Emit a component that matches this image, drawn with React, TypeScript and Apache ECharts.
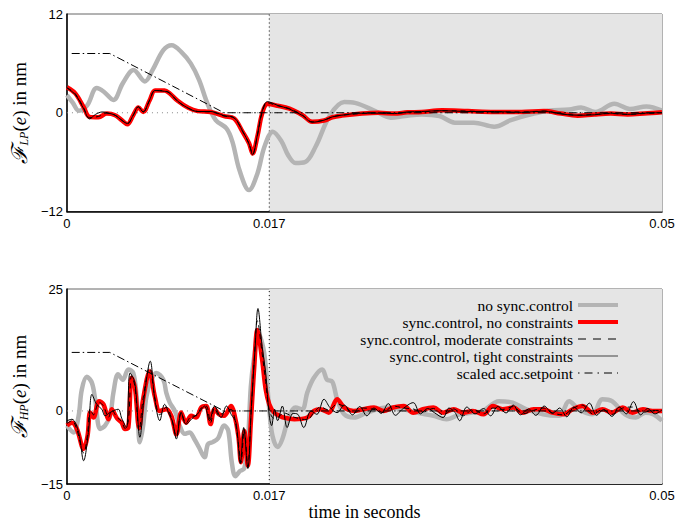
import React, { useEffect, useRef } from "react";
import * as echarts from "echarts";

// time in ms, value in nm
const grayLP: [number, number][] = [
  [0, 2.15], [0.5, 1.2], [1.0, 0.25], [1.7, 0.9], [2.5, 3.0], [3.1, 2.55], [3.9, 1.55], [4.7, 3.6], [5.6, 5.2], [6.55, 3.8],
  [7.2, 5.2], [8.1, 7.6], [8.8, 8.2], [9.6, 7.4], [10.4, 6.0], [11.1, 4.0], [11.8, 1.15], [12.5, -0.9], [13.4, -1.9], [13.9, -3.5],
  [14.5, -7.0], [15.3, -9.4], [16.0, -7.4], [16.6, -4.1], [17.3, -2.3], [18.0, -3.4], [18.6, -5.2], [19.2, -6.1], [20.0, -6.0], [20.9, -4.1],
  [22.1, -0.3], [23.3, 1.3], [24.2, 1.2], [25.9, 0.2], [27.2, -0.6], [28.4, -0.4], [29.8, -0.2], [31.3, -0.4], [32.6, -1.2], [34.2, -1.2],
  [35.9, -1.7], [37.3, -0.9], [39.0, -0.2], [40.4, 0.25], [42.2, 0.4], [43.2, 0.65], [44.4, 0.1], [46.0, 1.1], [47.3, 0.45], [48.7, 0.75], [50.0, 0.25],
];
const redLP: [number, number][] = [
  [0, 3.1], [0.7, 2.35], [1.4, 0.7], [1.9, -0.5], [2.65, -0.55], [3.35, -0.1], [4.05, -0.3], [4.6, -0.9], [5.07, -1.4], [5.57, -0.3],
  [6.0, 0.65], [6.4, 0.1], [6.96, 1.55], [7.4, 2.7], [8.2, 2.7], [8.6, 2.4], [9.3, 1.45], [10.2, 0.6], [11.0, 0.2], [12.1, 0.1],
  [13.2, -0.4], [14.05, -0.7], [14.75, -2.3], [15.3, -3.7], [15.6, -4.95], [16.0, -2.9], [16.4, -0.1], [16.85, 1.05], [17.7, 0.85], [18.7, 0.5],
  [19.8, -0.3], [20.6, -1.1], [21.6, -0.95], [22.3, -0.55], [23.1, -0.35], [24.8, -0.1], [26.2, 0.0], [27.5, -0.1], [28.6, 0.05], [29.8, 0.1],
  [31.5, 0.3], [33.7, 0.2], [35.9, 0.1], [38.2, 0.1], [40.1, 0.2], [41.5, -0.1], [42.9, -0.35], [44.3, -0.2], [45.7, -0.1], [47.1, -0.2], [48.5, -0.1], [50, 0.05],
];
const moderateLP: [number, number][] = [
  [0, 3.05], [0.7, 2.3], [1.4, 0.6], [1.9, -0.6], [2.65, -0.45], [3.35, -0.05], [4.05, -0.3], [4.6, -0.9], [5.07, -1.35], [5.57, -0.3],
  [6.0, 0.7], [6.4, 0.1], [6.96, 1.55], [7.4, 2.7], [8.2, 2.65], [8.6, 2.4], [9.3, 1.4], [10.2, 0.55], [11.0, 0.15], [12.1, 0.1],
  [13.2, -0.4], [14.05, -0.65], [14.75, -2.25], [15.3, -3.75], [15.6, -5.0], [16.0, -2.8], [16.4, 0.0], [16.85, 1.2], [17.7, 0.85], [18.7, 0.5],
  [19.8, -0.3], [20.6, -1.1], [21.6, -0.9], [22.3, -0.5], [23.1, -0.3], [24.8, -0.1], [26.2, 0.0], [27.5, -0.1], [28.6, 0.05], [29.8, 0.1],
  [31.5, 0.25], [33.7, 0.2], [35.9, 0.1], [38.2, 0.1], [40.1, 0.2], [41.5, -0.1], [42.9, -0.3], [44.3, -0.2], [45.7, -0.1], [47.1, -0.2], [48.5, -0.1], [50, 0.0],
];
const tightLP: [number, number][] = [
  [0, 3.0], [0.7, 2.2], [1.4, 0.5], [1.9, -0.75], [2.4, -0.2], [3.0, 0.1], [3.5, -0.05], [4.05, -0.3], [4.6, -0.9], [5.07, -1.3],
  [5.57, -0.3], [6.0, 0.75], [6.4, 0.1], [6.96, 1.6], [7.4, 2.7], [8.2, 2.6], [8.6, 2.45], [9.3, 1.4], [10.2, 0.55], [11.0, 0.15],
  [12.1, 0.15], [13.2, -0.35], [14.05, -0.6], [14.75, -2.2], [15.3, -3.8], [15.6, -5.1], [16.0, -2.7], [16.4, 0.2], [16.85, 1.35], [17.7, 0.9],
  [18.7, 0.45], [19.8, -0.35], [20.6, -1.15], [21.6, -0.9], [22.3, -0.5], [23.1, -0.3], [24.8, -0.05], [26.2, -0.05], [27.5, -0.1], [28.6, 0.1],
  [29.8, 0.15], [31.5, 0.25], [33.7, 0.15], [35.9, 0.15], [38.2, 0.05], [40.1, 0.2], [41.5, -0.15], [42.9, -0.3], [44.3, -0.25], [45.7, -0.05],
  [47.1, -0.2], [48.5, -0.05], [50, 0.0],
];
const setpointLP: [number, number][] = [[0.4, 7.2], [3.6, 7.2], [13.2, 0], [50, 0]];

const grayHP: [number, number][] = [
  [0, -3.0], [0.56, -4.4], [0.98, -1.0], [1.25, 4.4], [1.67, 7.0], [2.09, 5.8], [2.37, 2.4], [2.79, -3.7], [3.2, -3.0], [3.63, -1.0],
  [3.9, 3.7], [4.3, 7.5], [4.7, 6.4], [5.16, 8.5], [5.57, 7.8], [5.85, 3.0], [6.13, -6.4], [6.4, -3.0], [6.68, 3.0], [7.1, 6.4],
  [7.5, 7.8], [8.1, 6.4], [8.35, 3.7], [8.64, 1.7], [9.06, 0.0], [9.47, -3.0], [9.9, -4.7], [10.3, -4.4], [10.7, -5.75], [11.1, -7.5],
  [11.56, -9.5], [11.85, -6.8], [12.25, -6.4], [12.7, -5.6], [13.2, -3.0], [13.55, -4.0], [13.85, -10.5], [14.15, -13.4], [14.55, -12.3], [14.9, -11.8],
  [15.2, -6.4], [15.45, 5.0], [15.7, 10.5], [16.1, 15.8], [16.57, 11.9], [17.0, 0.35], [17.27, -5.1], [17.7, -7.4], [18.1, -5.75], [18.67, -1.0],
  [19.2, 0.7], [19.77, 0.35], [20.2, 3.8], [20.75, 6.8], [21.45, 8.5], [21.85, 6.4], [22.3, 6.0], [22.7, 2.4], [23.3, -0.7], [24.1, -1.35],
  [25.2, -0.35], [26.9, 0.7], [28.0, 0.5], [29.4, -0.35], [30.8, -1.0], [31.9, -1.7], [33.0, -0.7], [34.1, -0.35], [34.95, 0], [36.3, 2.0],
  [37.45, 1.7], [38.6, 0.35], [40.0, -0.7], [41.35, -1.0], [42.2, 2.0], [43.0, 0.35], [44.15, -0.7], [45.0, 2.4], [45.8, 2.0], [46.9, -0.7],
  [47.8, -1.35], [48.6, -0.35], [49.3, -0.7], [50, -2.0],
];
const redHP: [number, number][] = [
  [0, -3.0], [0.42, -2.4], [0.84, -3.7], [1.4, -7.8], [1.73, -5.1], [1.95, -0.3], [2.23, -1.35], [2.7, 2.0], [3.07, 1.35], [3.5, -1.7],
  [3.76, 0.35], [4.2, -1.5], [4.6, -2.4], [4.88, -3.7], [5.16, -3.4], [5.43, 6.8], [5.71, 4.8], [6.07, -3.5], [6.4, 2.4], [6.95, 8.1],
  [7.38, 3.0], [7.8, 0], [8.35, 0.35], [8.77, -1.0], [9.2, -4.8], [9.6, -0.3], [10.0, -2.4], [10.44, -1.0], [10.86, -1.35], [11.28, 0.7],
  [11.7, 1.0], [12.07, -2.7], [12.4, 0.35], [12.8, -0.7], [13.2, -1.0], [13.8, 1.0], [14.07, -0.7], [14.4, -5.1], [14.62, -10.5], [14.9, -4.1],
  [15.2, -11.2], [15.45, -2.4], [15.74, 9.1], [16.0, 16.6], [16.4, 10.5], [16.7, 4.4], [17.0, 1.35], [17.4, -0.35], [17.8, -0.9], [18.2, -1.35],
  [19.1, -1.7], [20.2, -1.35], [20.75, 0], [21.3, 0.35], [22.0, -0.35], [22.7, 2.4], [23.3, 0.7], [24.1, 0], [24.9, 0.35], [25.8, 0.7],
  [26.6, 0], [27.4, 0.7], [28.3, 1.0], [29.1, -0.35], [29.9, 0.35], [30.8, 0.7], [31.6, -0.35], [32.5, 0.35], [33.3, -0.35], [34.1, 0],
  [35.0, -0.7], [35.8, 1.0], [36.6, 0.35], [37.5, 0.7], [38.3, -0.35], [39.2, 0.35], [40.0, 0.35], [40.8, -0.35], [41.7, -0.7], [42.5, 0.35],
  [43.3, 1.0], [44.2, -0.35], [45.0, 0.35], [45.8, -0.35], [46.7, 0.7], [47.5, -0.35], [48.4, 0.35], [49.2, 0], [50, 0],
];
const moderateHP: [number, number][] = [
  [0, -2.6], [0.42, -2.0], [0.84, -3.9], [1.4, -8.6], [1.73, -4.8], [1.95, 0.5], [2.23, -0.8], [2.7, 1.8], [3.07, 1.0], [3.5, -1.3],
  [3.76, 0.2], [4.2, -1.3], [4.6, -2.2], [4.88, -3.6], [5.16, -2.0], [5.43, 7.2], [5.71, 5.0], [6.07, -4.0], [6.4, 2.6], [6.95, 8.9],
  [7.38, 2.8], [7.8, -0.8], [8.35, 0.8], [8.77, -1.4], [9.2, -5.2], [9.6, -0.3], [10.0, -2.5], [10.44, -1.1], [10.86, -1.0], [11.28, 0.6],
  [11.7, 1.0], [12.07, -2.4], [12.4, 0.6], [12.8, -1.0], [13.2, -0.2], [13.8, 0.3], [14.07, -1.2], [14.4, -6.5], [14.62, -10.6], [14.9, -3.8],
  [15.2, -11.4], [15.45, -1.2], [15.74, 10.5], [16.0, 18.5], [16.4, 11.8], [16.7, 6.0], [17.0, 0.2], [17.4, -1.5], [17.8, -1.2], [18.2, -0.4],
  [19.1, -1.3], [20.2, -1.8], [20.75, -0.3], [21.3, 0.8], [22.0, 0.2], [22.7, 1.4], [23.3, 0.9], [24.1, -0.4], [24.9, 0.6], [25.8, 0.3],
  [26.6, -0.3], [27.4, 1.0], [28.3, 0.6], [29.1, 0.4], [29.9, -0.2], [30.8, 0.5], [31.6, -0.8], [32.5, 0.4], [33.3, -1.0], [34.1, 0.3],
  [35.0, -0.6], [35.8, 0.6], [36.6, 0.3], [37.5, 0.9], [38.3, -0.6], [39.2, 0.1], [40.0, 0.6], [40.8, -0.4], [41.7, -0.8], [42.5, 0.5],
  [43.3, 1.2], [44.2, -0.6], [45.0, 0.3], [45.8, -0.7], [46.7, 0.6], [47.5, 0.8], [48.4, -0.3], [49.2, 0.1], [50, 0.1],
];
const tightHP: [number, number][] = [
  [0, -2.0], [0.42, -1.7], [0.98, -4.4], [1.4, -10.2], [1.8, -4.4], [2.1, 3.4], [2.5, 1.35], [2.93, 0.35], [3.2, -1.0], [3.6, -0.35],
  [4.3, 0.35], [4.6, -1.5], [5.0, -3.4], [5.3, 7.8], [5.7, 5.8], [6.13, -5.4], [6.5, 3.0], [7.0, 10.2], [7.38, 2.4], [7.8, -2.0],
  [8.2, 1.35], [8.64, -1.0], [8.85, -2.0], [9.2, -5.75], [9.6, -0.3], [10.0, -2.7], [10.6, -1.35], [11.1, -0.3], [11.56, 1.0], [11.98, -2.0],
  [12.4, 1.0], [12.95, -1.35], [13.4, 1.0], [13.8, -0.7], [14.2, -2.4], [14.57, -10.8], [14.85, -3.4], [15.2, -11.8], [15.5, 0.9], [15.8, 12.5],
  [16.05, 21.0], [16.4, 13.2], [16.7, 7.8], [17.0, -1.0], [17.2, -3.0], [17.45, 0.35], [17.7, -2.0], [18.1, 1.0], [18.5, -3.4], [19.0, -0.5],
  [19.4, -0.7], [19.9, -3.4], [20.5, 0], [21.0, -0.7], [21.6, 2.4], [22.1, 0.7], [22.7, -0.35], [23.3, 1.2], [24.0, -0.8], [24.6, 0.9],
  [25.2, -1.0], [25.8, 0.6], [26.4, -0.5], [27.0, 1.5], [27.6, -0.9], [28.2, 0.4], [29.1, 1.7], [29.7, -0.6], [30.3, 0.5], [30.9, -0.4],
  [31.6, -1.35], [32.1, 0.6], [32.6, -0.3], [33.0, -2.0], [33.6, 0.8], [34.3, -0.6], [35.0, 0.5], [35.6, -1.0], [36.2, 0.9], [36.9, -0.4],
  [37.5, 1.2], [38.1, -0.8], [38.8, 0.4], [39.4, -0.9], [40.1, 1.0], [40.8, -0.5], [41.4, 0.6], [42.0, -1.2], [42.6, 0.8], [43.2, -0.4],
  [43.9, 1.6], [44.5, -0.9], [45.1, 0.3], [45.8, -1.1], [46.4, 0.8], [47.0, -0.6], [47.6, 1.9], [48.2, -0.8], [48.8, 0.5], [49.4, -0.6], [50, 0.2],
];
const setpointHP: [number, number][] = [[0.4, 12], [3.6, 12], [13.2, 0], [50, 0]];

const seriesNames = [
  "no sync.control",
  "sync.control, no constraints",
  "sync.control, moderate constraints",
  "sync.control, tight constraints",
  "scaled acc.setpoint",
];
const xTicks = [0, 0.017, 0.05];
const yTicksLP = [-12, 0, 12];
const yTicksHP = [-15, 0, 25];
const switchTime = 0.017;
const endTime = 0.05;

const SERIF = "'Liberation Serif', 'Times New Roman', 'DejaVu Serif', serif";
const SANS = "'Liberation Sans', Arial, Helvetica, sans-serif";

const lineStyles: any[] = [
  { color: "#b4b4b4", width: 4.5, type: "solid" },
  { color: "#ff0000", width: 4.5, type: "solid" },
  { color: "#000000", width: 1, type: [5, 4] },
  { color: "#000000", width: 1, type: "solid" },
  { color: "#000000", width: 1, type: [8, 3, 1.5, 3] },
];
const legendStyles: any[] = [
  { color: "#b4b4b4", width: 4, type: "solid" },
  { color: "#ff0000", width: 4, type: "solid" },
  { color: "#000000", width: 1, type: [8, 7] },
  { color: "#444444", width: 1.2, type: "solid" },
  { color: "#000000", width: 1, type: [1.5, 5, 8, 5] },
];

const toSec = (arr: [number, number][]) => arr.map(([t, v]) => [t / 1000, v]);
const fmtY = (v: number) => (v < 0 ? "\u2212" + Math.abs(v) : String(v));
const fmtX = (v: number) => (v === 0 ? "0" : String(+v.toFixed(3)));

function buildSeries(idx: number, data: [number, number][][], yTicks: number[]) {
  const out: any[] = [];
  out.push({
    name: "zero",
    type: "line",
    xAxisIndex: idx,
    yAxisIndex: idx,
    data: [[0, 0], [endTime, 0]],
    symbol: "none",
    silent: true,
    lineStyle: { color: "#888", width: 1, type: [1, 4] },
    z: 1,
  });
  out.push({
    name: "switch",
    type: "line",
    xAxisIndex: idx,
    yAxisIndex: idx,
    data: [[switchTime, yTicks[0]], [switchTime, yTicks[2]]],
    symbol: "none",
    silent: true,
    lineStyle: { color: "#000", width: 1, type: [1, 3] },
    z: 1,
    markArea: {
      silent: true,
      itemStyle: { color: "#e5e5e5" },
      data: [[{ xAxis: switchTime }, { xAxis: endTime }]],
    },
  });
  data.forEach((d, i) => {
    out.push({
      name: seriesNames[i],
      type: "line",
      xAxisIndex: idx,
      yAxisIndex: idx,
      data: toSec(d),
      symbol: "none",
      showSymbol: false,
      smooth: i === 4 ? false : 0.35,
      lineStyle: lineStyles[i],
      itemStyle: { color: lineStyles[i].color },
      z: 3 + i,
    });
  });
  return out;
}

function yName(sub: string) {
  return `{f|\u2131}{s|${sub}}{n|(}{i|e}{n|) in nm}`;
}
const nameRich = {
  f: { fontFamily: "'DejaVu Serif', serif", fontStyle: "italic", fontSize: 22, color: "#000" },
  s: { fontFamily: SERIF, fontStyle: "italic", fontSize: 12, color: "#000", verticalAlign: "bottom" },
  n: { fontFamily: SERIF, fontSize: 19, color: "#000" },
  i: { fontFamily: SERIF, fontStyle: "italic", fontSize: 19, color: "#000" },
};

export default function App() {
  const ref = useRef<HTMLDivElement>(null);
  useEffect(() => {
    if (!ref.current) return;
    const chart = echarts.init(ref.current, null, { renderer: "svg" });
    const xAxisBase = (gridIndex: number, withName: boolean) => ({
      type: "value",
      gridIndex,
      min: 0,
      max: endTime,
      name: withName ? "time in seconds" : "",
      nameLocation: "middle",
      nameGap: 15,
      nameTextStyle: { fontFamily: SERIF, fontSize: 18, color: "#000" },
      axisLine: { show: true, onZero: false, lineStyle: { color: "#000", width: 1.5 } },
      axisTick: { show: false },
      splitLine: { show: false },
      axisLabel: {
        customValues: xTicks,
        formatter: fmtX,
        color: "#000",
        fontSize: 13,
        fontFamily: SANS,
        margin: 5,
      },
    });
    const yAxisBase = (gridIndex: number, ticks: number[], sub: string) => ({
      type: "value",
      gridIndex,
      min: ticks[0],
      max: ticks[2],
      name: yName(sub),
      nameLocation: "middle",
      nameRotate: 90,
      nameGap: 30,
      nameTextStyle: { rich: nameRich },
      axisLine: { show: true, onZero: false, lineStyle: { color: "#000", width: 1.5 } },
      axisTick: { show: false },
      splitLine: { show: false },
      axisLabel: {
        customValues: ticks,
        formatter: fmtY,
        color: "#000",
        fontSize: 13,
        fontFamily: SANS,
        margin: 4,
      },
    });
    chart.setOption({
      animation: false,
      backgroundColor: "#fff",
      grid: [
        { left: 63, top: 14, width: 599, height: 197.5, show: true, borderColor: "#666", borderWidth: 1 },
        { left: 63, top: 289, width: 599, height: 197, show: true, borderColor: "#666", borderWidth: 1 },
      ],
      xAxis: [xAxisBase(0, false), xAxisBase(1, true)],
      yAxis: [yAxisBase(0, yTicksLP, "LP"), yAxisBase(1, yTicksHP, "HP")],
      legend: {
        data: seriesNames.map((name, i) => ({ name, lineStyle: legendStyles[i] })),
        orient: "vertical",
        right: 70,
        top: 297,
        align: "right",
        padding: 0,
        itemWidth: 40,
        itemHeight: 12,
        itemGap: 1,
        itemStyle: { opacity: 0 },
        textStyle: { fontFamily: SERIF, fontSize: 15.5, color: "#000" },
        selectedMode: false,
      },
      series: [
        ...buildSeries(0, [grayLP, redLP, moderateLP, tightLP, setpointLP], yTicksLP),
        ...buildSeries(1, [grayHP, redHP, moderateHP, tightHP, setpointHP], yTicksHP),
      ],
    });
    return () => chart.dispose();
  }, []);
  return <div ref={ref} style={{ position: "fixed", left: 0, top: 0, width: 690, height: 522 }} />;
}
